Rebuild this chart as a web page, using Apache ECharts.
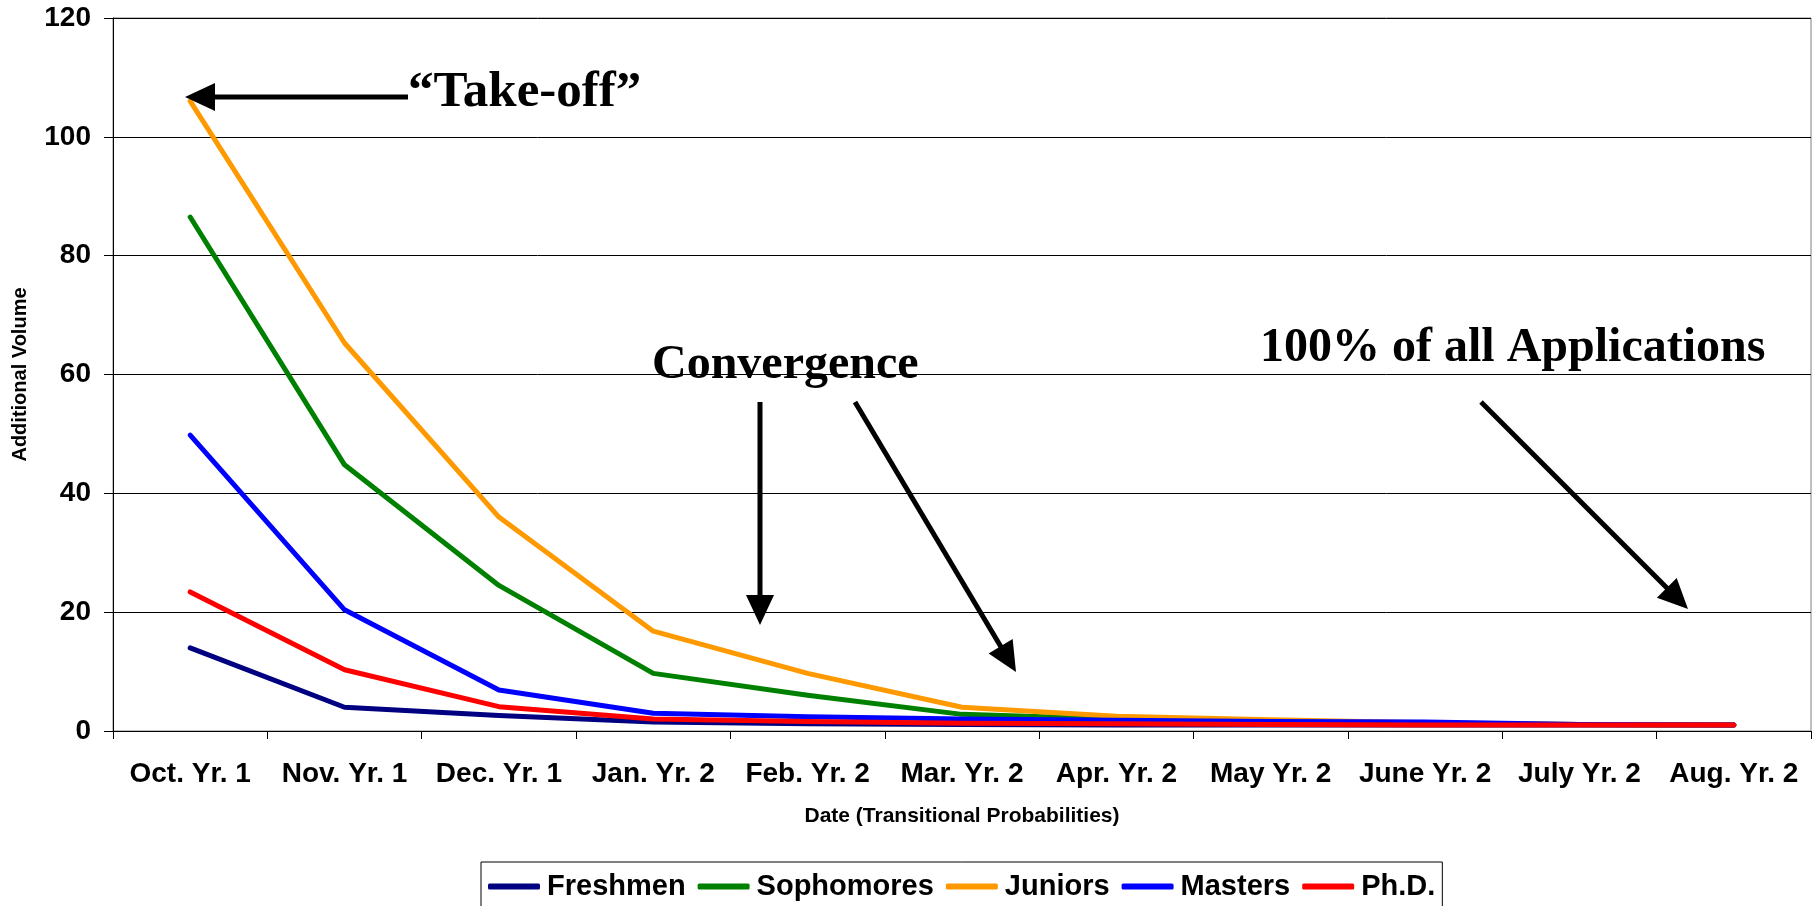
<!DOCTYPE html>
<html>
<head>
<meta charset="utf-8">
<title>Additional Volume by Month</title>
<script src="https://cdn.jsdelivr.net/npm/echarts@6/dist/echarts.min.js"></script>
<style>
  html, body { margin: 0; padding: 0; background: #ffffff; }
  #chart { width: 1818px; height: 906px; }
</style>
</head>
<body>
<div id="chart"></div>
<script>
// Months on the horizontal axis
const months = ["Oct. Yr. 1", "Nov. Yr. 1", "Dec. Yr. 1", "Jan. Yr. 2", "Feb. Yr. 2", "Mar. Yr. 2",
                "Apr. Yr. 2", "May Yr. 2", "June Yr. 2", "July Yr. 2", "Aug. Yr. 2"];

// Additional volume per student group
const freshmen   = [14.0, 4.0, 2.6, 1.5, 1.2, 1.1, 1.0, 1.0, 1.0, 1.0, 1.0];
const sophomores = [86.5, 44.8, 24.5, 9.7, 6.0, 2.8, 2.0, 1.5, 1.3, 1.1, 1.0];
const juniors    = [106.0, 65.3, 36.0, 16.8, 9.7, 4.0, 2.5, 1.9, 1.4, 1.1, 1.0];
const masters    = [49.8, 20.4, 6.9, 3.0, 2.4, 2.0, 1.8, 1.6, 1.5, 1.1, 1.0];
const phd        = [23.4, 10.3, 4.1, 2.0, 1.6, 1.3, 1.2, 1.1, 1.0, 1.0, 1.0];

// Value axis ticks
const yTicks = [0, 20, 40, 60, 80, 100, 120];

const seriesDefs = [
  { name: "Freshmen",   data: freshmen,   color: "#000080" },
  { name: "Sophomores", data: sophomores, color: "#008000" },
  { name: "Juniors",    data: juniors,    color: "#FF9900" },
  { name: "Masters",    data: masters,    color: "#0000FF" },
  { name: "Ph.D.",      data: phd,        color: "#FF0000" }
];

const SANS = '"Liberation Sans", Arial, sans-serif';
const SERIF = '"Liberation Serif", "Times New Roman", serif';

// Builds a straight arrow (shaft + filled head) from tail to tip
function arrow(x1, y1, x2, y2) {
  const headLen = 30, headW = 28, lineW = 5;
  const dx = x2 - x1, dy = y2 - y1, L = Math.hypot(dx, dy);
  const ux = dx / L, uy = dy / L, px = -uy, py = ux;
  const bx = x2 - ux * headLen, by = y2 - uy * headLen;
  return [
    { type: 'line', silent: true, z: 100,
      shape: { x1: x1, y1: y1, x2: bx + ux * 2, y2: by + uy * 2 },
      style: { stroke: '#000', lineWidth: lineW } },
    { type: 'polygon', silent: true, z: 100,
      shape: { points: [[x2, y2], [bx + px * headW / 2, by + py * headW / 2], [bx - px * headW / 2, by - py * headW / 2]] },
      style: { fill: '#000' } }
  ];
}

function label(text, x, y, size) {
  return { type: 'text', silent: true, z: 100, x: x, y: y,
    style: { text: text, font: 'bold ' + size + 'px ' + SERIF, fill: '#000', align: 'left', verticalAlign: 'middle' } };
}

const chart = echarts.init(document.getElementById('chart'), null, { renderer: 'canvas' });

chart.setOption({
  backgroundColor: '#ffffff',
  animation: false,
  grid: {
    left: 113, right: 7, top: 18, bottom: 175,
    show: true, borderColor: '#808080', borderWidth: 1, backgroundColor: '#ffffff'
  },
  legend: {
    left: 481, top: 862,
    padding: [10, 7, 7, 7],
    borderColor: '#000', borderWidth: 1,
    itemWidth: 52, itemHeight: 6, itemGap: 12,
    icon: 'roundRect',
    textStyle: { fontFamily: SANS, fontWeight: 'bold', fontSize: 29, color: '#000', padding: [0, 0, 0, 2] },
    data: seriesDefs.map(s => s.name)
  },
  xAxis: {
    type: 'category',
    data: months,
    boundaryGap: true,
    name: 'Date (Transitional Probabilities)',
    nameLocation: 'middle',
    nameGap: 75,
    nameTextStyle: { fontFamily: SANS, fontWeight: 'bold', fontSize: 21, color: '#000' },
    axisLine: { show: true, lineStyle: { color: '#000', width: 1 } },
    axisTick: { show: true, length: 8, alignWithLabel: false, lineStyle: { color: '#000' } },
    axisLabel: { interval: 0, margin: 29, fontFamily: SANS, fontWeight: 'bold', fontSize: 28, color: '#000' },
    splitLine: { show: false }
  },
  yAxis: {
    type: 'value',
    min: yTicks[0], max: yTicks[yTicks.length - 1], interval: yTicks[1] - yTicks[0],
    name: 'Additional Volume',
    nameLocation: 'middle',
    nameGap: 83,
    nameRotate: 90,
    nameTextStyle: { fontFamily: SANS, fontWeight: 'bold', fontSize: 20, color: '#000' },
    axisLine: { show: true, lineStyle: { color: '#000', width: 1 } },
    axisTick: { show: true, length: 9, lineStyle: { color: '#000' } },
    axisLabel: { margin: 22, fontFamily: SANS, fontWeight: 'bold', fontSize: 28, color: '#000' },
    splitLine: { show: true, lineStyle: { color: '#000', width: 1 } }
  },
  series: seriesDefs.map(s => ({
    name: s.name,
    type: 'line',
    data: s.data,
    color: s.color,
    symbol: 'none',
    showSymbol: false,
    lineStyle: { color: s.color, width: 5, cap: 'round', join: 'round' },
    itemStyle: { color: s.color }
  })),
  graphic: [
    label('\u201CTake-off\u201D', 408, 93, 51),
    ...arrow(408, 97, 185, 97),
    label('Convergence', 652, 366, 48),
    ...arrow(760, 402, 760, 625),
    ...arrow(855, 402, 1016, 672),
    label('100% of all Applications', 1260, 349, 48),
    ...arrow(1481, 402, 1688, 609)
  ]
});
</script>
</body>
</html>
